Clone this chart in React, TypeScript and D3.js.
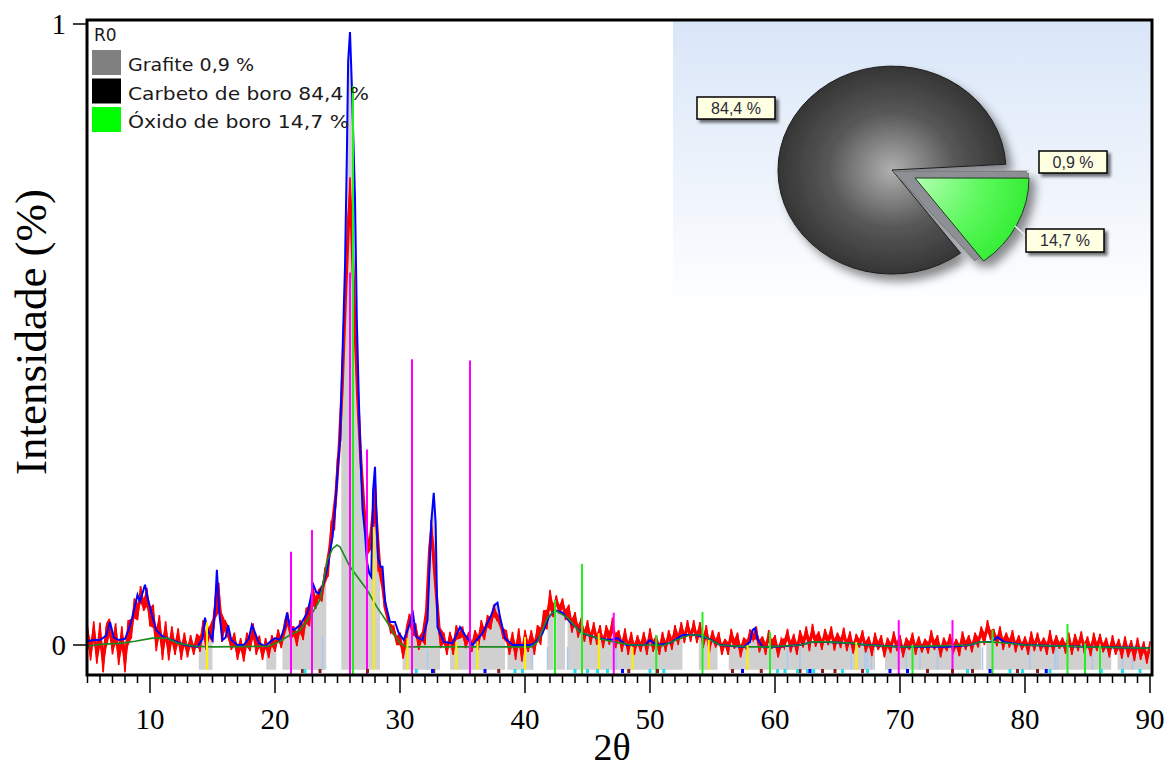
import React from "react";
import * as d3 from "d3";

// ---------- DATA ----------
// observed pattern (red), regular 2θ grid
const obsStart = 5;
const obsStep = 0.25;
const obsI = [
  0.030,-0.025,0.038,-0.030, 0.036,-0.044,0.030,0.042, -0.015,0.035,-0.032,0.030, -0.044,0.040,0.010,0.075,
  0.040,0.095,0.055,0.092, 0.030,0.065,-0.010,0.048, -0.024,0.038,-0.025,0.030, -0.016,0.027,-0.024,0.020,
  -0.020,0.016,-0.016,0.018, -0.011,0.040,-0.008,0.030, 0.005,0.080,0.100,0.005, 0.040,0.025,-0.008,0.020,
  -0.024,0.011,-0.027,0.020, -0.010,0.035,-0.016,0.015, -0.024,0.011,-0.021,0.016, -0.011,0.025,-0.005,0.030,
  0.053,0.008,0.030,-0.002, 0.040,0.008,0.060,0.030, 0.097,0.058,0.090,0.070, 0.125,0.110,0.200,0.185,
  0.300,0.330,0.500,0.610, 0.753,0.600,0.450,0.340, 0.250,0.190,0.150,0.160, 0.275,0.120,0.125,0.060,
  0.050,0.020,0.030,0.000, 0.020,-0.022,0.016,0.050, 0.015,0.035,-0.008,0.020, 0.000,0.110,0.202,0.120,
  0.060,-0.005,0.020,-0.016, 0.021,-0.016,0.032,0.010, 0.030,-0.005,0.021,-0.011, 0.024,-0.008,0.040,0.008,
  0.048,0.025,0.065,0.040, 0.045,0.010,0.024,-0.016, 0.021,-0.024,0.027,-0.027, 0.024,-0.011,0.024,-0.016,
  0.032,0.000,0.056,0.025, 0.089,0.045,0.080,0.050, 0.075,0.040,0.065,0.020, 0.053,0.012,0.044,0.005,
  0.040,0.000,0.037,0.000, 0.032,-0.005,0.032,0.000, 0.044,-0.005,0.024,-0.011, 0.027,-0.016,0.021,-0.016,
  0.016,-0.011,0.021,-0.016, 0.027,-0.011,0.016,-0.016, 0.021,-0.011,0.024,-0.008, 0.032,0.000,0.037,0.003,
  0.040,0.005,0.040,0.003, 0.037,-0.005,0.032,-0.012, 0.024,-0.004,0.021,-0.016, 0.010,-0.016,0.026,-0.006,
  0.020,-0.020,0.012,-0.008, 0.025,0.008,0.030,-0.012, 0.014,-0.016,0.024,-0.006, 0.016,-0.020,0.010,-0.004,
  0.026,-0.012,0.018,-0.016, 0.024,-0.004,0.030,-0.010, 0.034,-0.003,0.022,-0.008, 0.026,0.000,0.030,-0.009,
  0.020,-0.005,0.028,-0.010, 0.022,-0.014,0.018,-0.004, 0.024,-0.012,0.014,-0.018, 0.020,-0.008,0.016,-0.020,
  0.012,-0.013,0.022,-0.010, 0.016,-0.020,0.012,-0.008, 0.020,-0.016,0.014,-0.012, 0.010,-0.014,0.024,-0.008,
  0.016,-0.020,0.012,-0.010, 0.018,-0.014,0.010,-0.018, 0.022,-0.008,0.016,-0.012, 0.020,-0.004,0.030,0.000,
  0.040,0.008,0.026,-0.002, 0.030,-0.008,0.020,-0.004, 0.024,-0.012,0.016,-0.008, 0.014,-0.016,0.022,-0.010,
  0.020,-0.010,0.012,-0.016, 0.024,-0.014,0.016,-0.006, 0.012,-0.014,0.020,-0.016, 0.018,-0.010,0.022,-0.014,
  0.014,-0.018,0.020,-0.010, 0.018,-0.012,0.012,-0.020, 0.016,-0.016,0.010,-0.022, 0.014,-0.020,0.008,-0.026,
  0.012,-0.024,0.006,-0.030, 0.006,
];

// calculated pattern (blue)
const calcX = [5.0,5.5,6.0,6.5,6.8,7.1,7.5,8.0,8.3,8.6,9.0,9.2,9.6,9.8,10.2,10.5,11.0,12.0,12.8,13.8,14.2,14.4,14.6,15.0,15.2,15.35,15.55,15.8,16.05,16.25,16.5,17.0,17.5,17.9,18.15,18.4,18.7,19.2,19.6,20.0,20.4,20.8,20.96,21.2,21.5,22.0,22.6,22.9,23.05,23.3,23.5,23.8,24.2,24.6,24.8,25.0,25.2,25.5,25.6,25.75,25.85,26.0,26.15,26.4,26.55,26.7,26.85,27.0,27.2,27.35,27.55,27.7,27.85,28.0,28.1,28.25,28.45,28.6,28.8,29.2,29.6,29.9,30.3,30.8,31.0,31.3,31.8,32.2,32.5,32.7,32.85,33.0,33.5,34.2,34.8,35.2,35.8,36.6,37.3,37.6,37.8,38.0,38.4,39.0,40.4,40.8,41.4,41.9,42.4,43.0,43.6,44.6,45.8,46.8,47.4,48.1,48.9,49.6,50.0,50.5,51.6,52.6,53.7,54.6,55.6,57.5,58.0,58.2,58.4,58.6,59.0,60.0,62.0,63.0,64.2,66.0,67.4,70.0,74.0,75.6,76.4,77.3,77.8,78.3,80.0,85.0,90.0];
const calcI = [0.006,0.008,0.008,0.015,0.037,0.012,0.008,0.010,0.025,0.045,0.081,0.070,0.097,0.077,0.045,0.024,0.014,0.006,0.000,-0.003,0.010,0.044,0.025,0.008,0.060,0.121,0.050,0.008,0.012,0.032,0.008,0.000,0.000,0.010,0.032,0.020,0.003,-0.002,0.005,0.011,0.008,0.030,0.052,0.030,0.024,0.032,0.052,0.080,0.098,0.085,0.083,0.094,0.125,0.174,0.218,0.278,0.331,0.540,0.610,0.790,0.940,0.987,0.900,0.720,0.520,0.400,0.300,0.220,0.180,0.135,0.115,0.110,0.250,0.287,0.220,0.140,0.126,0.126,0.070,0.037,0.037,0.019,0.008,0.035,0.056,0.013,0.008,0.040,0.197,0.245,0.197,0.029,0.005,0.003,0.029,0.016,0.000,0.019,0.048,0.065,0.068,0.045,0.011,0.000,0.000,0.003,0.019,0.045,0.056,0.052,0.037,0.019,0.011,0.008,0.011,0.000,0.000,0.000,0.008,0.000,0.003,0.016,0.016,0.011,0.000,-0.003,0.005,0.024,0.027,0.010,-0.003,-0.003,0.000,0.005,0.005,0.003,0.000,-0.003,-0.003,0.000,0.005,0.005,0.013,0.005,0.000,-0.003,-0.005];

// background (dark green)
const bgX = [5.0,6.0,7.8,8.8,10.2,11.4,12.2,13.6,15.0,19.5,20.4,21.2,22.0,22.8,23.6,24.2,24.6,24.96,25.2,26.0,27.36,28.16,28.96,29.5,30.0,30.5,40.5,41.0,41.8,42.4,43.4,44.4,45.8,47.1,48.5,50.5,51.0,52.1,53.2,54.2,54.8,55.6,58.0,59.3,62.0,63.0,64.2,66.0,67.4,70.0,75.6,76.4,78.0,80.0,85.0,90.0];
const bgI = [-0.002,0.001,0.003,0.006,0.011,0.011,0.003,-0.002,-0.003,-0.002,0.006,0.016,0.024,0.045,0.073,0.137,0.155,0.161,0.158,0.126,0.089,0.061,0.037,0.018,0.003,-0.003,-0.003,0.005,0.044,0.056,0.044,0.021,0.011,0.005,0.000,0.000,-0.001,0.008,0.016,0.016,0.008,0.000,-0.003,-0.003,0.000,0.005,0.005,0.003,0.000,-0.003,0.000,0.005,0.004,0.000,-0.003,-0.005];

// 2θ ranges with grey fill
const grayStart = [13.9,19.3,20.6,25.3,30.2,34.0,38.6,41.8,42.5,43.4,53.9,56.3,68.8,76.9,87.4];
const grayEnd   = [15.0,20.1,24.1,28.4,33.2,38.4,40.6,42.3,43.2,52.6,55.4,68.0,76.5,86.9,90.0];

// reference sticks
const magentaX = [21.28,22.96,26.0,27.36,30.96,35.6,47.1,69.9,74.2];
const magentaI = [0.150,0.185,0.600,0.315,0.460,0.458,0.052,0.040,0.040];
const limeX = [26.24,42.4,44.56,50.5,54.2,59.6,71.0,77.4,83.4,84.8,86.0];
const limeI = [0.900,0.073,0.131,0.016,0.053,0.021,0.000,0.024,0.034,0.003,0.000];
const yellowX = [14.56,27.9,30.6,34.5,36.2,40.0,45.9,48.6,54.7,57.8,66.5];
const yellowI = [0.037,0.190,0.011,0.005,0.006,0.013,0.019,-0.003,0.008,0.000,0.005];
const lightBlueX = [23.8,32.2,40.6,41.8,43.4,47.3,61.0,62.0,66.1,67.2,67.4,67.7,70.5,71.6,73.0,76.6,80.4,82.4,82.6,85.4,87.8,88.6];
const lightBlueI = [0.013,-0.008,-0.003,-0.003,-0.003,-0.003,-0.004,-0.004,-0.004,-0.004,-0.004,-0.004,-0.004,-0.004,-0.004,-0.004,-0.004,-0.004,-0.004,-0.004,-0.004,-0.004];

// reflection markers at the bottom
const markDarkRed = [22.2,23.6,27.4,32.7,37.9,48.3,50.6,56.6,58.9,62.0,63.8,64.8,67.0,72.2,74.2,75.8,79.4,81.0];
const markCyan = [22.4,31.3,39.2,39.8,44.0,45.0,45.8,46.6,50.0,51.1,60.2,60.8,61.8,62.6,63.1,65.4,67.4,75.4,78.8,79.8,82.0,86.1,87.8,89.2];
const markBlue = [32.6,36.8,47.8,57.4,62.8,69.2,70.6,77.2,81.7];

const xTicks = [10,20,30,40,50,60,70,80,90];
const yTicks = [0,1];

// phases
const phaseNames = ["Grafite","Carbeto de boro","Óxido de boro"];
const phaseValues = [0.9,84.4,14.7];
const phaseColors = ["#808080","#000000","#00ff00"];

const fmt = (v: number) => v.toFixed(1).replace(".", ",");

export default function App() {
  const x = d3.scaleLinear().domain([5, 90]).range([87.5, 1150]);
  const y = d3.scaleLinear().domain([0, 1]).range([645, 24]);
  const axisY = 675;
  const grayBottom = -0.04;
  const stickBottom = -0.047;

  const line = d3.line<[number, number]>().x(d => x(d[0])).y(d => y(d[1]));
  const obsPts: [number, number][] = obsI.map((v, i) => [obsStart + i * obsStep, v]);
  // band spanned by each observed point and its neighbours (fills the noisy trace)
  const obsBand = obsI.map((v, i) => {
    const a = obsI[Math.max(0, i - 1)], b = obsI[Math.min(obsI.length - 1, i + 1)];
    return { x: obsStart + i * obsStep, lo: Math.min(v, (a + v) / 2, (b + v) / 2), hi: Math.max(v, (a + v) / 2, (b + v) / 2) };
  });
  const bandArea = d3.area<{ x: number; lo: number; hi: number }>().x(d => x(d.x)).y0(d => y(d.lo)).y1(d => y(d.hi));
  const calcPts: [number, number][] = calcX.map((v, i) => [v, calcI[i]]);
  const bgPts: [number, number][] = bgX.map((v, i) => [v, bgI[i]]);
  const grayArea = d3.area<[number, number]>().x(d => x(d[0])).y0(y(grayBottom)).y1(d => y(d[1]));

  const minorTicks = x.ticks(85).filter(t => t % 10 !== 0);

  // pie
  const cx = 892, cy = 170, rx = 114, ry = 104;
  const order = [1, 0, 2];
  const pie = d3.pie<number>().sort(null).value(d => phaseValues[d])
    .startAngle((143 * Math.PI) / 180).endAngle((143 * Math.PI) / 180 + 2 * Math.PI);
  const arcs = pie(order);
  const arcGen = d3.arc<any>().innerRadius(0).outerRadius(1);
  const aDark = arcs[0], aGray = arcs[1], aGreen = arcs[2];
  const darkPath = arcGen({ startAngle: aDark.startAngle, endAngle: aDark.endAngle }) as string;
  const sidePath = arcGen({ startAngle: aGray.endAngle, endAngle: aGreen.endAngle }) as string;
  const greenPath = arcGen({ startAngle: aGreen.startAngle, endAngle: aGreen.endAngle }) as string;

  const pieLabelBoxes = [
    { i: 1, bx: 697, by: 97, bw: 78, bh: 22, l: [775, 113, 789, 124] },
    { i: 0, bx: 1039, by: 151, bw: 68, bh: 22, l: [1027, 172, 1039, 170] },
    { i: 2, bx: 1026, by: 229, bw: 78, bh: 23, l: [1015, 226, 1026, 236] },
  ];

  return (
    <svg width={1174} height={772} style={{ position: "absolute", left: 0, top: 0, background: "#fff" }}>
      <defs>
        <linearGradient id="panelGrad" x1="0" y1="0" x2="0" y2="1">
          <stop offset="0" stopColor="#d9e6f8" />
          <stop offset="1" stopColor="#ffffff" />
        </linearGradient>
        <radialGradient id="darkGrad" cx="0" cy="0" r="1" gradientUnits="userSpaceOnUse">
          <stop offset="0" stopColor="#b0b0b0" />
          <stop offset="0.55" stopColor="#585858" />
          <stop offset="1" stopColor="#353535" />
        </radialGradient>
        <radialGradient id="greenGrad" cx="0" cy="0" r="1" gradientUnits="userSpaceOnUse">
          <stop offset="0" stopColor="#b4ffb4" />
          <stop offset="0.6" stopColor="#5cf85c" />
          <stop offset="1" stopColor="#36ee36" />
        </radialGradient>
        <filter id="pieShadow" x="-30%" y="-30%" width="160%" height="160%">
          <feDropShadow dx="6" dy="7" stdDeviation="5" floodColor="#000" floodOpacity="0.45" />
        </filter>
        <filter id="boxShadow" x="-20%" y="-30%" width="150%" height="180%">
          <feDropShadow dx="3" dy="3" stdDeviation="1.5" floodColor="#000" floodOpacity="0.55" />
        </filter>
        <clipPath id="plotClip">
          <rect x={87} y={20} width={1065} height={655} />
        </clipPath>
        <clipPath id="grayClip">
          {grayStart.map((s, i) => (
            <rect key={i} x={x(s)} y={20} width={x(grayEnd[i]) - x(s)} height={655} />
          ))}
        </clipPath>
      </defs>

      {/* pie panel background */}
      <rect x={673} y={21} width={478} height={290} fill="url(#panelGrad)" />

      <g clipPath="url(#plotClip)">
        <g clipPath="url(#grayClip)">
          <path d={grayArea(calcPts) as string} fill="#d0d0d0" />
        </g>
        {lightBlueX.map((v, i) => (
          <line key={"lb" + i} x1={x(v)} x2={x(v)} y1={y(grayBottom)} y2={y(lightBlueI[i])} stroke="#a9c9ee" strokeWidth={1.5} />
        ))}
        <path d={bandArea(obsBand) as string} fill="#ff0000" />
        <path d={line(obsPts) as string} fill="none" stroke="#ff0000" strokeWidth={1.6} />
        <path d={line(calcPts) as string} fill="none" stroke="#0000ff" strokeWidth={2} />
        <path d={line(bgPts) as string} fill="none" stroke="#1c8a1c" strokeWidth={1.6} />
        {yellowX.map((v, i) => (
          <line key={"y" + i} x1={x(v)} x2={x(v)} y1={y(grayBottom)} y2={y(yellowI[i])} stroke="#ffee00" strokeWidth={2} />
        ))}
        {magentaX.map((v, i) => (
          <line key={"m" + i} x1={x(v)} x2={x(v)} y1={y(stickBottom)} y2={y(magentaI[i])} stroke="#ff00ff" strokeWidth={2} />
        ))}
        {limeX.map((v, i) => (
          <line key={"g" + i} x1={x(v)} x2={x(v)} y1={y(stickBottom)} y2={y(limeI[i])} stroke="#22ee22" strokeWidth={2} />
        ))}
        {markDarkRed.map((v, i) => (
          <rect key={"dr" + i} x={x(v) - 1.5} y={669} width={3} height={4} fill="#8b1a1a" />
        ))}
        {markCyan.map((v, i) => (
          <rect key={"cy" + i} x={x(v) - 1.5} y={669} width={3} height={4} fill="#22e0e8" />
        ))}
        {markBlue.map((v, i) => (
          <rect key={"bl" + i} x={x(v) - 1.5} y={669} width={3} height={4} fill="#0000ff" />
        ))}
      </g>

      {/* frame */}
      <rect x={87} y={20} width={1065} height={axisY - 20} fill="none" stroke="#000" strokeWidth={3} />

      {/* x axis ticks */}
      {minorTicks.map(t => (
        <line key={"mt" + t} x1={x(t)} x2={x(t)} y1={axisY} y2={axisY + 8} stroke="#000" strokeWidth={1.5} />
      ))}
      {xTicks.map(t => (
        <g key={"xt" + t}>
          <line x1={x(t)} x2={x(t)} y1={axisY} y2={axisY + 18} stroke="#000" strokeWidth={1.5} />
          <text x={x(t)} y={729} textAnchor="middle" fontFamily="Liberation Serif" fontSize={29} fill="#000">{t}</text>
        </g>
      ))}
      {yTicks.map(t => (
        <g key={"yt" + t}>
          <line x1={73} x2={87} y1={y(t)} y2={y(t)} stroke="#000" strokeWidth={1.5} />
          <text x={66} y={y(t) + 10} textAnchor="end" fontFamily="Liberation Serif" fontSize={29} fill="#000">{t}</text>
        </g>
      ))}
      <text x={612} y={760} textAnchor="middle" fontFamily="Liberation Serif" fontSize={38} fill="#000">2θ</text>
      <text transform="translate(46,332) rotate(-90)" textAnchor="middle" fontFamily="Liberation Serif" fontSize={45} fill="#000">Intensidade (%)</text>

      {/* legend */}
      <text x={94} y={41} fontFamily="DejaVu Sans" fontSize={17} fill="#1a1a1a">R0</text>
      {phaseNames.map((n, i) => (
        <g key={"lg" + i}>
          <rect x={92} y={50 + i * 28.5} width={29} height={25} fill={phaseColors[i]} />
          <text x={128} y={71 + i * 28.5} fontFamily="DejaVu Sans" fontSize={18} fill="#1a1a1a"
            textLength={i === 0 ? 126 : i === 1 ? 241 : 221} lengthAdjust="spacingAndGlyphs">
            {`${n} ${fmt(phaseValues[i])}  %`}
          </text>
        </g>
      ))}

      {/* pie */}
      <g filter="url(#pieShadow)">
        <path d={darkPath} transform={`translate(${cx},${cy}) scale(${rx},${ry})`} fill="url(#darkGrad)"
          stroke="#1e1e1e" strokeWidth={1} vectorEffect="non-scaling-stroke" />
        <path d={sidePath} transform={`translate(${cx + 1},${cy + 1}) scale(${rx * 1.19},${ry * 1.08})`} fill="#8c8f93"
          stroke="#6a6a6a" strokeWidth={0.8} vectorEffect="non-scaling-stroke" />
        <path d={greenPath} transform={`translate(${cx + 23},${cy + 8}) scale(${rx},${ry})`} fill="url(#greenGrad)"
          stroke="#1e3a1e" strokeWidth={1} vectorEffect="non-scaling-stroke" />
      </g>
      {pieLabelBoxes.map(b => (
        <g key={"pl" + b.i}>
          <line x1={b.l[0]} y1={b.l[1]} x2={b.l[2]} y2={b.l[3]} stroke="#f0f0f0" strokeWidth={1.5} />
          <rect x={b.bx} y={b.by} width={b.bw} height={b.bh} fill="#ffffe1" stroke="#000" strokeWidth={1.5} filter="url(#boxShadow)" />
          <text x={b.bx + b.bw / 2} y={b.by + b.bh / 2 + 5.5} textAnchor="middle" fontFamily="Liberation Sans" fontSize={16} fill="#2a2a3a">
            {`${fmt(phaseValues[b.i])} %`}
          </text>
        </g>
      ))}
    </svg>
  );
}
